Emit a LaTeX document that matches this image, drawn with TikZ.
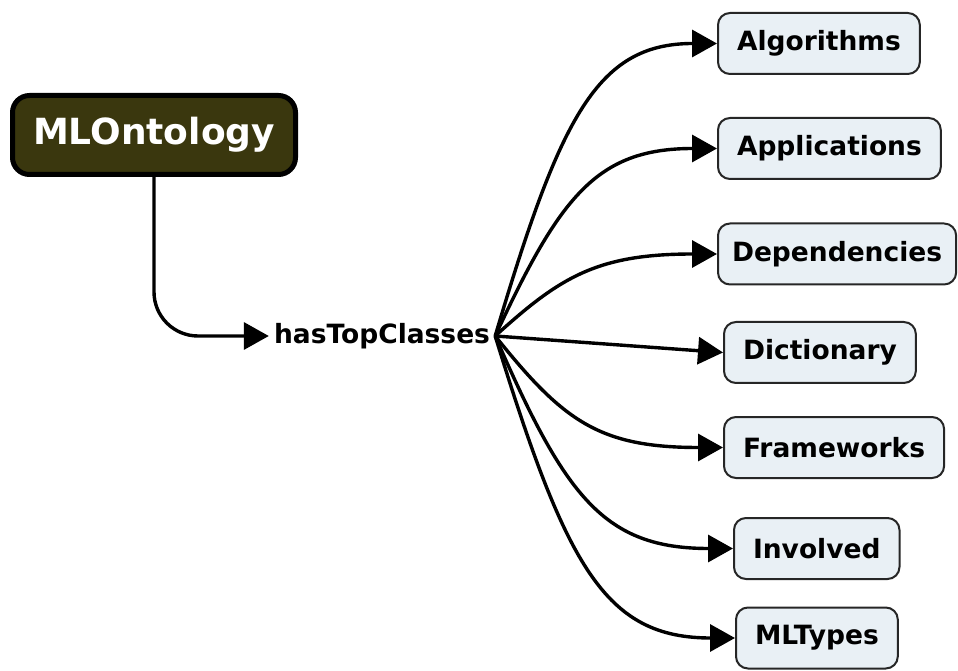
\documentclass[tikz,border=0pt]{standalone}
\usepackage{fontspec}
\setmainfont{DejaVu Sans}
\usetikzlibrary{arrows.meta}
\definecolor{rootfill}{RGB}{58,55,14}
\definecolor{classfill}{RGB}{233,240,245}
\tikzset{
	rootbox/.style={draw=black, line width=5pt, fill=rootfill, rounded corners=17pt, text=white,
		font=\fontsize{36pt}{40pt}\selectfont\bfseries, minimum width=283pt, minimum height=79pt},
	classbox/.style={draw=black!85, line width=2pt, fill=classfill, rounded corners=12pt, anchor=west,
		font=\fontsize{26.5pt}{30pt}\selectfont\bfseries, minimum height=61pt, inner xsep=19pt},
	relation/.style={font=\fontsize{26.5pt}{30pt}\selectfont\bfseries, inner xsep=5pt, inner ysep=2pt},
	link/.style={line width=3.4pt, -{Triangle[length=25pt,width=27pt]}}
}
\begin{document}
\begin{tikzpicture}[x=1pt,y=1pt]
	\useasboundingbox (0,0) rectangle (958,670);
	% Root and relation
	\node [rootbox] at (154,535) (mlo) {MLOntology};
	\node [relation] at (382,334) (htc) {hasTopClasses};
	
	% Top classes
	\node [classbox] at (717,626.5) (alg) {Algorithms};
	\node [classbox] at (717,521.5) (app) {Applications};
	\node [classbox, inner xsep=14pt] at (717,416) (dep) {Dependencies};
	\node [classbox] at (723,317.5) (dict) {Dictionary};
	\node [classbox] at (723,222.5) (frm) {Frameworks};
	\node [classbox] at (733,121.5) (inv) {Involved};
	\node [classbox] at (735,32) (mlt) {MLTypes};
	
	% Connections
	\draw [link, rounded corners=44pt] (mlo.south) |- (htc.west);
	\draw [link] (htc.east) .. controls +(65,219) and +(-120,0) .. (alg.west);
	\draw [link] (htc.east) .. controls +(65,140) and +(-120,0) .. (app.west);
	\draw [link] (htc.east) .. controls +(65,59) and +(-120,0) .. (dep.west);
	\draw [link] (htc.east) -- (dict.west);
	\draw [link] (htc.east) .. controls +(68,-85) and +(-124,0) .. (frm.west);
	\draw [link] (htc.east) .. controls +(70,-161) and +(-129,0) .. (inv.west);
	\draw [link] (htc.east) .. controls +(71,-231) and +(-130,0) .. (mlt.west);
\end{tikzpicture}
\end{document}
